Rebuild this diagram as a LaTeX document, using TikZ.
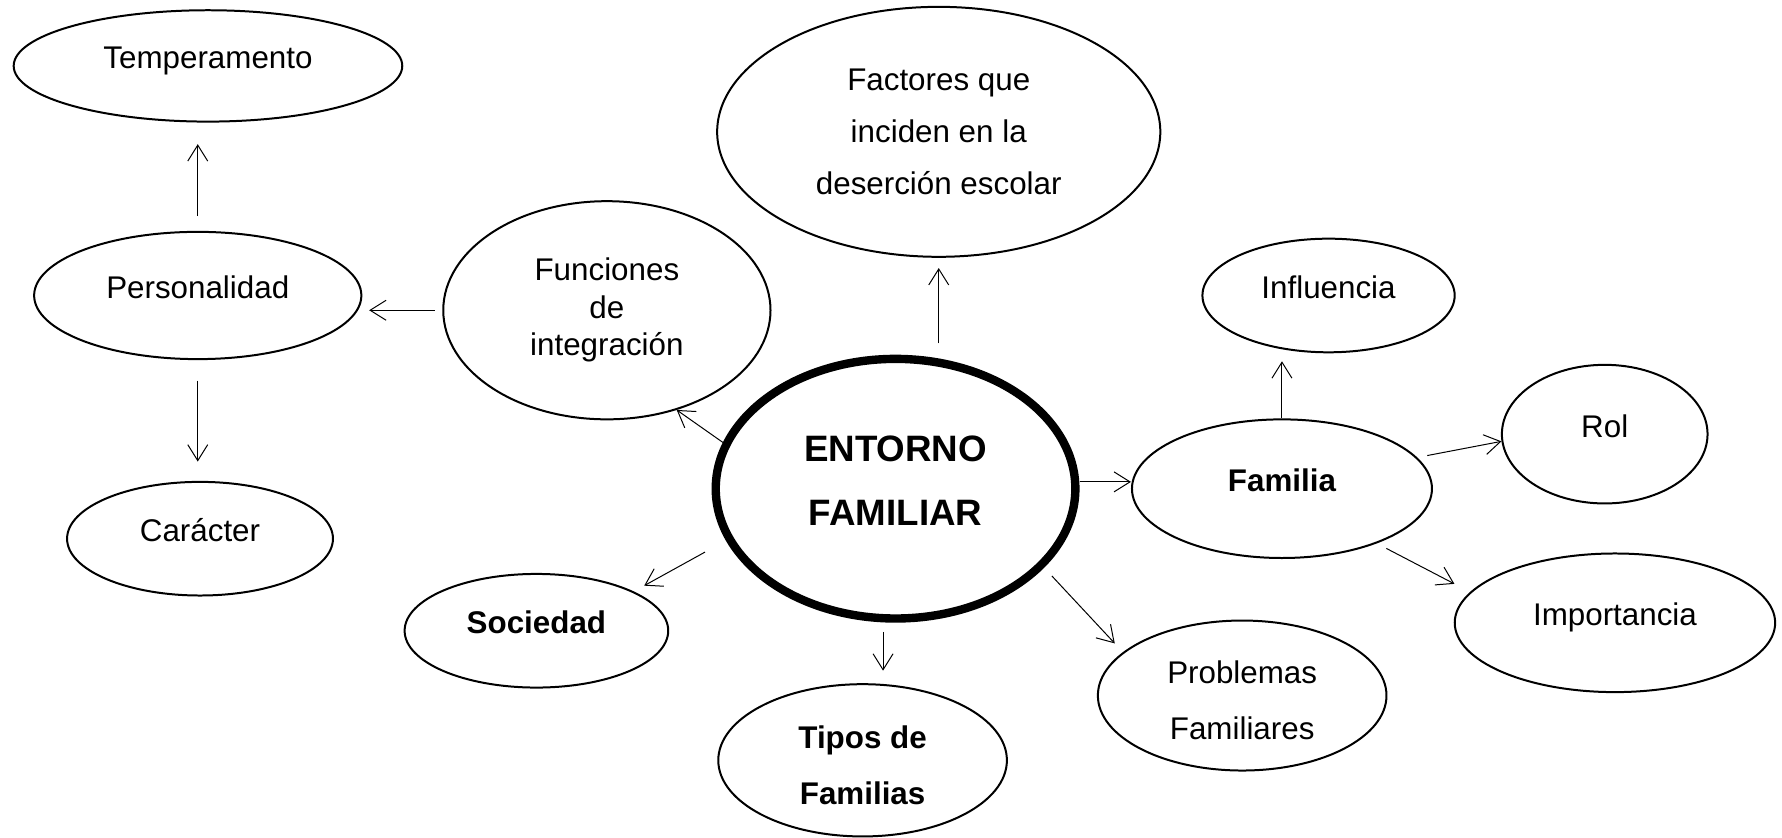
\documentclass[tikz,border=0pt]{standalone}
\usepackage{fontspec}
\setmainfont{Liberation Sans}
\usetikzlibrary{shapes.geometric,arrows.meta}

\begin{document}
\begin{tikzpicture}[x=0.02cm,y=-0.02cm,
  elip/.style={draw,ellipse,line width=1pt,inner sep=2pt,align=center,font=\fontsize{15.7}{18.8}\selectfont},
  oneline/.style={text height=12pt,text depth=9pt},
  flecha/.style={-{Straight Barb[length=8pt,width=10pt]},line width=0.5pt}]
\useasboundingbox (0,0) rectangle (1568,737);

\node[elip,oneline,minimum width=6.84cm,minimum height=1.96cm] (temp) at (183,58) {Temperamento};
\node[elip,oneline,minimum width=5.76cm,minimum height=2.24cm] (pers) at (174,260) {Personalidad};
\node[elip,oneline,minimum width=4.68cm,minimum height=2cm] (car) at (176,474) {Carácter};
\node[elip,minimum width=5.76cm,minimum height=3.84cm] (func) at (534,273) {Funciones\\de\\integración};
\node[elip,minimum width=7.8cm,minimum height=4.4cm,font=\fontsize{15.7}{25.9}\selectfont] (fact) at (826,116) {Factores que\\inciden en la\\deserción escolar};
\node[elip,line width=4.2pt,minimum width=6.33cm,minimum height=4.57cm,text depth=8pt,font=\bfseries\fontsize{18.4}{32.4}\selectfont] (ent) at (788,430) {ENTORNO\\FAMILIAR};
\node[elip,oneline,minimum width=4.44cm,minimum height=2cm] (infl) at (1169,260) {Influencia};
\node[elip,oneline,minimum width=3.62cm,minimum height=2.44cm] (rol) at (1412,382) {Rol};
\node[elip,oneline,minimum width=5.28cm,minimum height=2.44cm,font=\bfseries\fontsize{15.7}{18.8}\selectfont] (fam) at (1128,430) {Familia};
\node[elip,oneline,minimum width=5.64cm,minimum height=2.44cm] (imp) at (1421,548) {Importancia};
\node[elip,minimum width=5.08cm,minimum height=2.64cm,text height=44.5pt,text depth=0pt,font=\fontsize{15.7}{28.5}\selectfont] (prob) at (1093,612) {Problemas\\Familiares};
\node[elip,minimum width=5.08cm,minimum height=2.68cm,text height=44pt,text depth=0pt,font=\bfseries\fontsize{15.7}{27.9}\selectfont] (tipos) at (759,669) {Tipos de\\Familias};
\node[elip,oneline,minimum width=4.64cm,minimum height=2cm,font=\bfseries\fontsize{15.7}{18.8}\selectfont] (soc) at (472,555) {Sociedad};

\draw[flecha,shorten <=0.26cm,shorten >=0.38cm] (pers.north) -- (pers.north |- temp.south);
\draw[flecha,shorten <=0.36cm,shorten >=0.34cm] (pers.south) -- (pers.south |- car.north);
\draw[flecha,shorten <=0.13cm,shorten >=0.12cm] (func.west) -- (func.west -| pers.east);
\draw[flecha] (ent.165) -- (func.-55);
\draw[flecha,shorten <=0.2cm,shorten >=0.18cm] (fact.south |- ent.north) -- (fact.south);
\coordinate (famin) at ([yshift=0.12cm]fam.west);
\draw[flecha] (famin -| ent.east) -- (famin);
\draw[flecha,shorten >=0.14cm] (fam.north) -- (fam.north |- infl.south);
\draw[flecha,shorten <=0.18cm] (fam.13) -- (rol.-176);
\draw[flecha,shorten <=0.19cm,shorten >=0.31cm] (fam.-30) -- (imp.168);
\draw[flecha,shorten <=0.2cm,shorten >=0.21cm] (ent.-28) -- (prob.160);
\coordinate (entbot) at ([xshift=-0.22cm]ent.south);
\draw[flecha,shorten <=0.16cm,shorten >=0.22cm] (entbot) -- (entbot |- tipos.north);
\draw[flecha,shorten <=0.42cm,shorten >=0.21cm] (ent.-163) -- (soc.22);
\end{tikzpicture}
\end{document}
